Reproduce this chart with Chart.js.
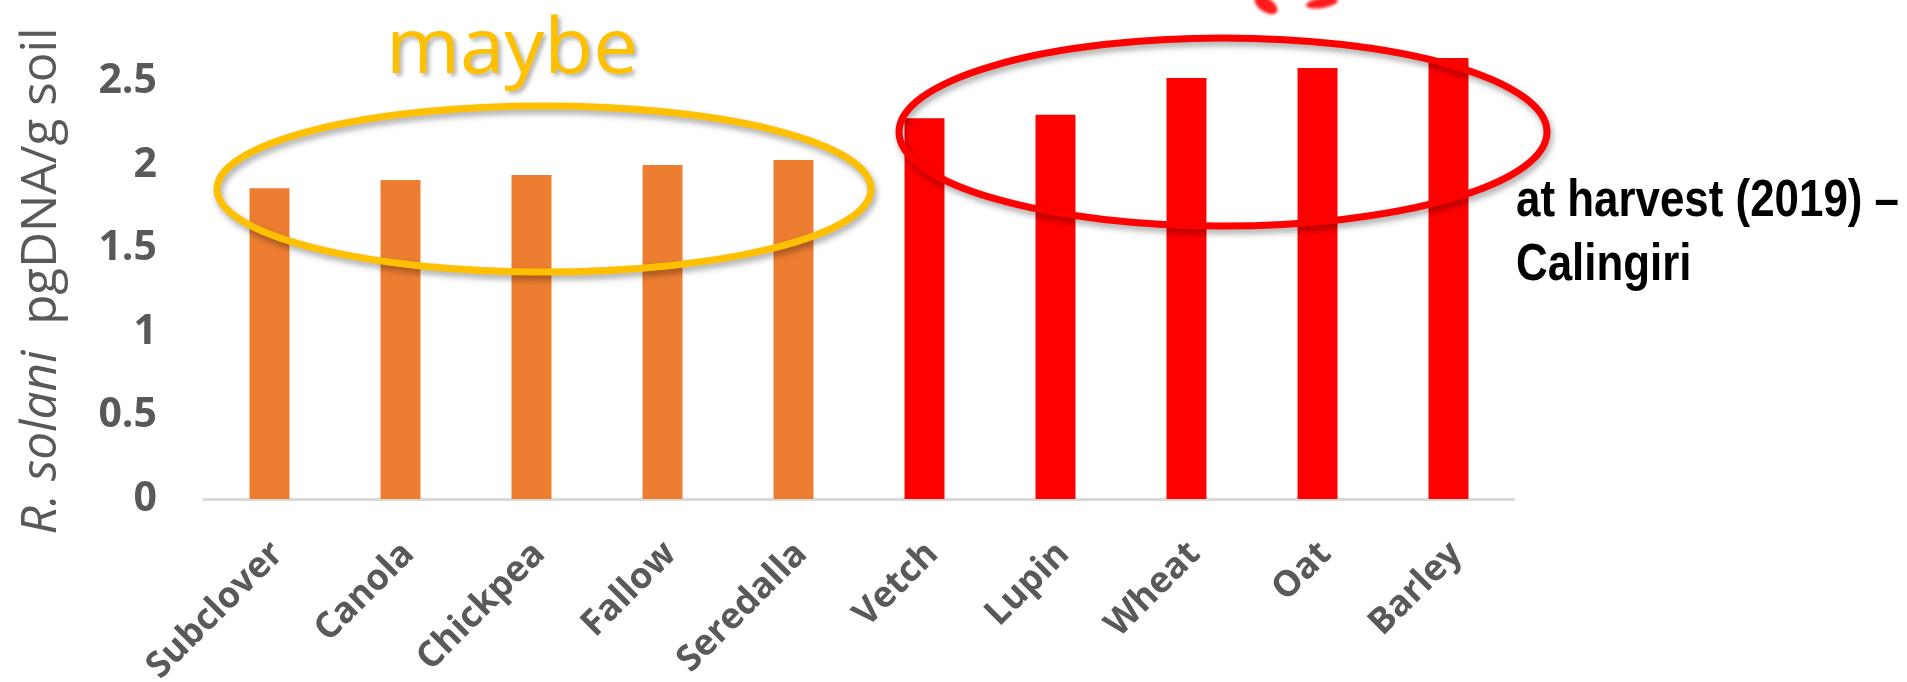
<!DOCTYPE html>
<html><head><meta charset="utf-8">
<script src="https://cdn.jsdelivr.net/npm/chart.js@4.4.0/dist/chart.umd.min.js"></script>
<style>html,body{margin:0;padding:0;background:#fff;}#wrap{width:1907px;height:682px;position:relative}</style>
</head><body><div id="wrap"><canvas id="c" width="1907" height="682"></canvas></div>
<script>
const categories = ['Subclover','Canola','Chickpea','Fallow','Seredalla','Vetch','Lupin','Wheat','Oat','Barley'];
const values = [1.86, 1.91, 1.94, 2.00, 2.03, 2.28, 2.30, 2.52, 2.58, 2.64];
const barColors = ['#ED7D31','#ED7D31','#ED7D31','#ED7D31','#ED7D31','#FF0000','#FF0000','#FF0000','#FF0000','#FF0000'];
const yTicks = [0, 0.5, 1, 1.5, 2, 2.5];
const yTitleItalic = 'R. solani';
const yTitleRest = '  pgDNA/g soil';
const noteLines = ['at harvest (2019) –', 'Calingiri'];
const maybeLabel = 'maybe';

const GRAY = '#595959';

function fitText(ctx, text, x, y, targetW, align) {
  const w = ctx.measureText(text).width;
  const s = targetW / w;
  ctx.save();
  ctx.translate(x, y);
  ctx.scale(s, 1);
  ctx.textAlign = 'left';
  let x0 = 0;
  if (align === 'center') x0 = -w / 2;
  ctx.fillText(text, x0, 0);
  ctx.restore();
}

const overlay = {
  id: 'overlay',
  afterDatasetsDraw(chart) {
    const ctx = chart.ctx;
    ctx.save();
    ctx.shadowColor = 'rgba(0,0,0,0.35)';
    ctx.shadowBlur = 6;
    ctx.shadowOffsetX = 2;
    ctx.shadowOffsetY = 4;
    ctx.lineWidth = 7;
    // orange ellipse ("maybe" group)
    ctx.strokeStyle = '#FFC000';
    ctx.beginPath();
    ctx.ellipse(544, 189, 327, 83, 0, 0, Math.PI * 2);
    ctx.stroke();
    // red ellipse
    ctx.strokeStyle = '#FF0000';
    ctx.beginPath();
    ctx.ellipse(1223, 132, 324, 94, 0, 0, Math.PI * 2);
    ctx.stroke();
    ctx.restore();
  },
  afterDraw(chart) {
    const ctx = chart.ctx;
    // y axis title
    ctx.save();
    ctx.fillStyle = GRAY;
    ctx.textBaseline = 'alphabetic';
    const fItal = 'italic 49px "Open Sans"';
    const fNorm = '49px "Open Sans"';
    ctx.font = fItal; const w1 = ctx.measureText(yTitleItalic).width;
    ctx.font = fNorm; const w2 = ctx.measureText(yTitleRest).width;
    const total = w1 + w2;
    const s = 507 / total;
    ctx.translate(56, 281);
    ctx.rotate(-Math.PI / 2);
    ctx.scale(s, 1);
    ctx.textAlign = 'left';
    ctx.font = fItal; ctx.fillText(yTitleItalic, -total / 2, 0);
    ctx.font = fNorm; ctx.fillText(yTitleRest, -total / 2 + w1, 0);
    ctx.restore();

    // "maybe"
    ctx.save();
    ctx.fillStyle = '#FFC000';
    ctx.shadowColor = 'rgba(0,0,0,0.3)';
    ctx.shadowBlur = 4; ctx.shadowOffsetX = 3; ctx.shadowOffsetY = 3;
    ctx.font = '76px "Open Sans"';
    ctx.textBaseline = 'alphabetic';
    fitText(ctx, maybeLabel, 512, 73, 252, 'center');
    ctx.restore();

    // note text
    ctx.save();
    ctx.fillStyle = '#000';
    ctx.font = 'bold 52px "Liberation Sans"';
    ctx.textBaseline = 'alphabetic';
    const nw = ctx.measureText(noteLines[0]).width;
    const ns = 383 / nw;
    noteLines.forEach((t, i) => {
      ctx.save();
      ctx.translate(1516, 216 + i * 64);
      ctx.scale(ns, 1);
      ctx.fillText(t, 0, 0);
      ctx.restore();
    });
    ctx.restore();

    // cropped red mark at the top
    ctx.save();
    ctx.fillStyle = '#FF1A1A';
    ctx.filter = 'blur(1.5px)';
    ctx.beginPath();
    ctx.ellipse(1266, 5, 13, 7, 0.6, 0, Math.PI * 2);
    ctx.fill();
    ctx.beginPath();
    ctx.ellipse(1322, 3, 16, 5, -0.15, 0, Math.PI * 2);
    ctx.fill();
    ctx.restore();
  }
};

new Chart(document.getElementById('c'), {
  type: 'bar',
  data: {
    labels: categories,
    datasets: [{
      data: values,
      backgroundColor: barColors,
      borderWidth: 0,
      barPercentage: 0.305,
      categoryPercentage: 1.0
    }]
  },
  options: {
    responsive: false,
    animation: false,
    devicePixelRatio: 1,
    layout: { padding: { top: 48, right: 393, bottom: 0, left: 0 } },
    plugins: { legend: { display: false }, tooltip: { enabled: false } },
    scales: {
      x: {
        grid: { display: false, drawTicks: false },
        border: { display: true, color: '#D9D9D9', width: 3 },
        ticks: {
          color: GRAY,
          font: { family: '"Open Sans"', size: 36, weight: 'bold' },
          minRotation: 45, maxRotation: 45,
          padding: 34,
          labelOffset: 8,
          autoSkip: false
        },
        afterFit: (a) => { a.height = 183; }
      },
      y: {
        min: 0, max: 2.7,
        grid: { display: false, drawTicks: false },
        border: { display: false },
        ticks: {
          color: GRAY,
          font: { family: '"Open Sans"', size: 41, weight: 'bold' },
          padding: 47,
          includeBounds: false,
          callback: (v) => String(v)
        },
        afterBuildTicks: (s) => { s.ticks = yTicks.map(v => ({ value: v })); },
        afterFit: (a) => { a.width = 204; a.paddingTop = 0; a.paddingBottom = 0; }
      }
    }
  },
  plugins: [overlay]
});
</script></body></html>
